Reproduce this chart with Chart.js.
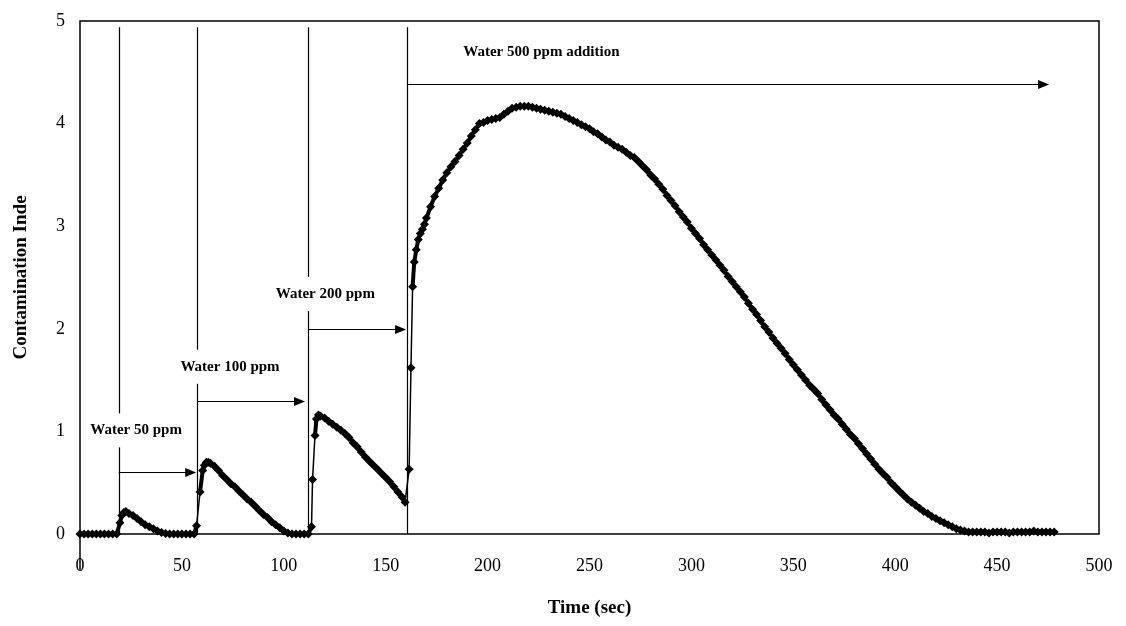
<!DOCTYPE html>
<html><head><meta charset="utf-8">
<script src="https://cdn.jsdelivr.net/npm/chart.js@4/dist/chart.umd.min.js"></script>
<style>html,body{margin:0;padding:0;background:#fff}#wrap{width:1126px;height:626px;position:relative}</style>
</head><body><div id="wrap"><canvas id="c"></canvas></div>
<script>
// ---- data ----
const timeSec = [
 0,2,4,6,8,10,12,14,16,18,
 19.6,20.5,21.5,22.5,24,26,28,30,32,34,36,38,40,42,44,46,48,50,52,54,56,
 57.2,58.9,60.2,61,62,63,64,66,68,70,72,74,76,78,80,82,84,86,88,90,92,94,96,98,100,102,104,106,108,110,112,
 113.6,114.1,115.3,116,117,118,120,122,124,126,128,130,132,134,136,138,140,142,144,146,148,150,152,154,156,158,159.5,
 161.5,162.4,163.2,164,165,166,167,168,169,170,172,174,176,178,180,182,184,186,188,190,192,194,196,198,200,
 202,204,206,208,210,212,214,216,218,220,222,224,226,228,230,232,234,236,238,240,242,244,246,248,250,
 252,254,256,258,260,262,264,266,268,270,272,274,276,278,280,282,284,286,288,290,292,294,296,298,300,
 302,304,306,308,310,312,314,316,318,320,322,324,326,328,330,332,334,336,338,340,342,344,346,348,350,
 352,354,356,358,360,362,364,366,368,370,372,374,376,378,380,382,384,386,388,390,392,394,396,398,400,
 402,404,406,408,410,412,414,416,418,420,422,424,426,428,430,432,434,436,438,440,442,444,446,448,450,
 452,454,456,458,460,462,464,466,468,470,472,474,476,478
];
const contamination = [
 0,0,0,0,0,0,0,0,0,0,
 0.11,0.18,0.21,0.22,0.20,0.18,0.15,0.12,0.09,0.07,0.05,0.03,0.015,0.005,0,0,0,0,0,0,0,
 0.08,0.41,0.62,0.67,0.70,0.70,0.69,0.66,0.62,0.57,0.53,0.49,0.46,0.42,0.38,0.34,0.31,0.27,0.23,0.19,0.16,0.12,0.09,0.06,0.03,0.01,0,0,0,0,0,
 0.07,0.53,0.96,1.12,1.16,1.15,1.13,1.10,1.07,1.04,1.01,0.98,0.94,0.89,0.85,0.80,0.75,0.71,0.67,0.63,0.59,0.55,0.51,0.46,0.41,0.36,0.31,
 0.63,1.62,2.41,2.65,2.77,2.87,2.93,2.97,3.02,3.08,3.19,3.29,3.37,3.45,3.52,3.58,3.63,3.69,3.75,3.81,3.88,3.94,4.00,4.01,4.03,
 4.04,4.05,4.06,4.09,4.12,4.15,4.16,4.17,4.17,4.17,4.16,4.15,4.14,4.13,4.12,4.11,4.10,4.09,4.07,4.05,4.03,4.01,3.99,3.97,3.95,
 3.92,3.90,3.87,3.84,3.82,3.79,3.77,3.75,3.72,3.69,3.67,3.63,3.59,3.55,3.50,3.46,3.41,3.36,3.30,3.25,3.20,3.14,3.09,3.04,2.98,
 2.93,2.88,2.82,2.77,2.72,2.67,2.62,2.57,2.51,2.46,2.41,2.36,2.31,2.25,2.19,2.14,2.08,2.02,1.97,1.91,1.86,1.81,1.76,1.70,1.65,
 1.60,1.55,1.50,1.45,1.41,1.37,1.31,1.26,1.21,1.16,1.12,1.07,1.02,0.97,0.93,0.88,0.83,0.78,0.73,0.68,0.63,0.59,0.55,0.50,0.46,
 0.42,0.38,0.34,0.31,0.28,0.25,0.22,0.20,0.17,0.15,0.13,0.11,0.09,0.07,0.05,0.04,0.03,0.02,0.02,0.02,0.02,0.02,0.01,0.02,0.02,
 0.02,0.02,0.01,0.02,0.02,0.02,0.02,0.02,0.03,0.02,0.02,0.02,0.02,0.02
];
const xTickValues = [0,50,100,150,200,250,300,350,400,450,500];
const yTickValues = [0,1,2,3,4,5];
const additionTimes = [19, 57.5, 112, 160.4];
const additionLabels = ['Water 50 ppm','Water 100 ppm','Water 200 ppm','Water 500 ppm addition'];
const yTitle = 'Contamination Inde';
const xTitle = 'Time (sec)';

// ---- annotation layout (data units) ----
const markerTop = 4.94;
const arrows = [
  {from: 19,    to: 57,    level: 0.60},
  {from: 57.5,  to: 110.4, level: 1.30},
  {from: 112,   to: 160,   level: 2.00},
  {from: 160.4, to: 475.5, level: 4.39}
];
const labelPos = [
  {x: 27.5, y: 1.01},
  {x: 73.6, y: 1.63},
  {x: 120.4, y: 2.34},
  {x: 226.4, y: 4.70}
];

const FAM = "'Liberation Serif','Times New Roman',serif";
const points = timeSec.map((t,i)=>({x:t, y:contamination[i]}));

const annot = {
  id: 'annot',
  beforeDatasetsDraw(chart){
    const {ctx, chartArea:a, scales:{x, y}} = chart;
    ctx.save();
    ctx.strokeStyle = '#000'; ctx.fillStyle = '#000';
    ctx.lineWidth = 1.2;
    additionTimes.forEach(t=>{
      const px = Math.round(x.getPixelForValue(t)) + 0.5;
      ctx.beginPath(); ctx.moveTo(px, y.getPixelForValue(markerTop)); ctx.lineTo(px, y.getPixelForValue(0)); ctx.stroke();
    });
    arrows.forEach(ar=>{
      const x1 = x.getPixelForValue(ar.from), x2 = x.getPixelForValue(ar.to);
      const py = Math.round(y.getPixelForValue(ar.level)) + 0.5;
      ctx.lineWidth = 1.2;
      ctx.beginPath(); ctx.moveTo(x1, py); ctx.lineTo(x2 - 8, py); ctx.stroke();
      ctx.beginPath(); ctx.moveTo(x2, py); ctx.lineTo(x2 - 11, py - 4.5); ctx.lineTo(x2 - 11, py + 4.5); ctx.closePath(); ctx.fill();
    });
    ctx.font = 'bold 15px ' + FAM;
    ctx.textAlign = 'center'; ctx.textBaseline = 'middle';
    additionLabels.forEach((txt,i)=>{
      const cx = x.getPixelForValue(labelPos[i].x), cy = y.getPixelForValue(labelPos[i].y);
      const w = ctx.measureText(txt).width;
      ctx.fillStyle = '#fff';
      ctx.fillRect(cx - w/2 - 6, cy - 17, w + 12, 34);
      ctx.fillStyle = '#000';
      ctx.fillText(txt, cx, cy);
    });
    ctx.lineWidth = 1.5;
    ctx.strokeRect(a.left, a.top, a.right - a.left, a.bottom - a.top);
    ctx.beginPath(); ctx.moveTo(a.left, a.bottom); ctx.lineTo(a.left, a.bottom + 36); ctx.stroke();
    ctx.restore();
  }
};

new Chart(document.getElementById('c'), {
  type: 'line',
  data: { datasets: [{
    data: points,
    borderColor: '#000',
    backgroundColor: '#000',
    borderWidth: 4,
    pointStyle: 'rectRot',
    pointRadius: 4.5,
    pointBorderWidth: 0,
    pointBackgroundColor: '#000',
    tension: 0,
    clip: false,
    segment: {
      borderWidth: c => Math.abs(c.p1.parsed.y - c.p0.parsed.y) > 0.25 ? 1.5 : 4
    }
  }]},
  options: {
    responsive: true, maintainAspectRatio: false, animation: false,
    layout: {padding: {left: 0, right: 27, top: 21, bottom: 0}},
    plugins: {legend: {display: false}, tooltip: {enabled: false}},
    scales: {
      x: {
        type: 'linear', min: 0, max: 500,
        afterBuildTicks: s => { s.ticks = xTickValues.map(v=>({value:v})); },
        afterFit: s => { s.height = 92; s.paddingLeft = 0; s.paddingRight = 0; },
        grid: {display: false, drawTicks: false},
        border: {display: false},
        ticks: {color: '#000', font: {family: FAM, size: 18}, padding: 21, maxRotation: 0, autoSkip: false},
        title: {display: true, text: xTitle, color: '#000', font: {family: FAM, size: 19, weight: 'bold'}, padding: {top: 0, bottom: 7}}
      },
      y: {
        min: 0, max: 5,
        afterBuildTicks: s => { s.ticks = yTickValues.map(v=>({value:v})); },
        afterFit: s => { s.width = 80; s.paddingTop = 0; s.paddingBottom = 0; },
        grid: {display: false, drawTicks: false},
        border: {display: false},
        ticks: {color: '#000', font: {family: FAM, size: 18}, padding: 15},
        title: {display: true, text: yTitle, color: '#000', font: {family: FAM, size: 19, weight: 'bold'}, padding: {top: 10, bottom: 0}}
      }
    }
  },
  plugins: [annot]
});
</script>
</body></html>
